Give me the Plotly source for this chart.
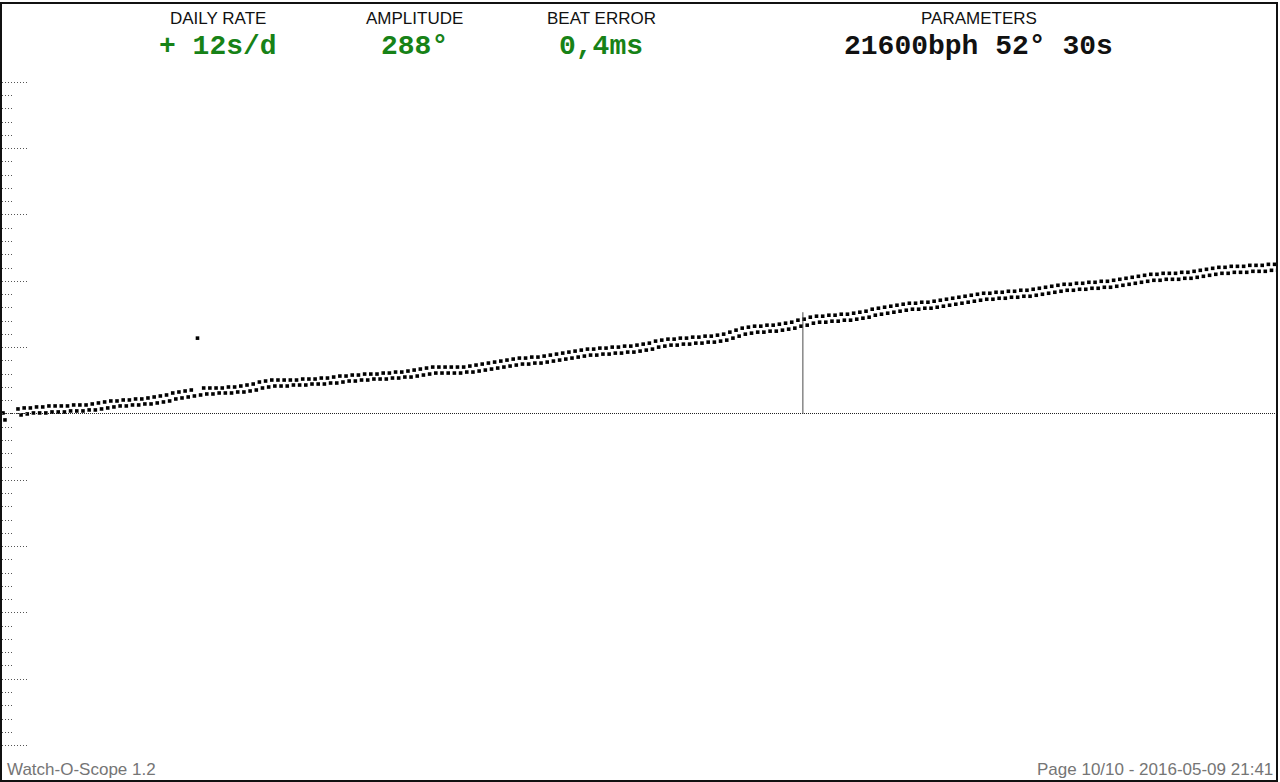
import plotly.graph_objects as go

# beat index along the page (tick = even beats, tock = odd beats half a step later)
beats = list(range(204))

# deviation of each tick / tock from the reference line (1 unit = 1/66.5 of a grid division)
tick_dev = [
    5, 6, 6, 7, 7, 8, 8, 8, 8, 9,
    9, 9, 10, 11, 12, 13, 13, 14, 14, 15,
    15, 16, 17, 18, 19, 21, 22, 23, 24, 76,
    26, 26, 26, 26, 27, 27, 28, 29, 30, 32,
    33, 34, 34, 34, 34, 34, 35, 35, 35, 36,
    36, 37, 38, 38, 39, 39, 40, 40, 40, 41,
    41, 42, 42, 43, 44, 45, 46, 47, 47, 47,
    47, 47, 47, 48, 49, 50, 51, 52, 53, 54,
    55, 56, 56, 57, 57, 58, 59, 60, 61, 62,
    63, 64, 65, 65, 66, 66, 67, 67, 68, 68,
    69, 70, 71, 73, 74, 75, 75, 76, 76, 77,
    77, 78, 78, 79, 80, 82, 84, 86, 87, 88,
    88, 89, 89, 90, 91, 92, 94, 95, 97, 98,
    98, 99, 99, 100, 100, 101, 102, 103, 105, 106,
    107, 108, 109, 110, 111, 111, 112, 112, 113, 114,
    115, 116, 117, 118, 119, 120, 121, 121, 122, 122,
    123, 123, 124, 124, 125, 126, 127, 128, 129, 130,
    130, 131, 131, 132, 132, 133, 133, 134, 135, 136,
    137, 138, 139, 140, 140, 141, 141, 141, 142, 142,
    143, 144, 145, 146, 147, 147, 148, 148, 148, 149,
    149, 149, 150, 150,
]
tock_dev = [
    -1, 0, 1, 1, 1, 2, 2, 2, 3, 3,
    3, 4, 4, 5, 6, 7, 8, 8, 9, 9,
    10, 10, 11, 12, 13, 15, 16, 17, 18, 19,
    20, 20, 21, 21, 21, 22, 22, 23, 24, 26,
    27, 28, 28, 28, 29, 29, 29, 30, 30, 30,
    31, 31, 32, 33, 33, 34, 34, 35, 35, 35,
    36, 36, 37, 37, 38, 39, 40, 41, 41, 41,
    41, 41, 42, 42, 43, 44, 45, 46, 47, 48,
    49, 50, 50, 51, 51, 52, 53, 54, 55, 56,
    57, 58, 59, 59, 60, 60, 61, 61, 62, 62,
    63, 64, 65, 67, 68, 69, 69, 70, 70, 71,
    71, 72, 72, 73, 74, 76, 78, 80, 81, 82,
    82, 83, 83, 84, 85, 86, 88, 89, 91, 92,
    92, 93, 93, 94, 94, 95, 96, 97, 99, 100,
    101, 102, 103, 104, 105, 105, 106, 106, 107, 108,
    109, 110, 111, 112, 113, 114, 115, 115, 116, 116,
    117, 117, 118, 118, 119, 120, 121, 122, 123, 124,
    124, 125, 125, 126, 126, 127, 127, 128, 129, 130,
    131, 132, 133, 134, 134, 135, 135, 135, 136, 136,
    137, 138, 139, 140, 141, 141, 142, 142, 142, 143,
    143, 143, 144, 144,
]

# two beats left over from the previous page at the left edge
early_beats = [-2.42, -2.1]
early_dev = [1, -6]

# cursor line
cursor_beat = 126.8
cursor_dev = 102

# grid divisions on the left edge
major_ticks = [k * 66.5 for k in range(-5, 6)]
minor_ticks = [k * 13.3 for k in range(-25, 26)]

header_labels = ["DAILY RATE", "AMPLITUDE", "BEAT ERROR", "PARAMETERS"]
header_values = ["+ 12s/d", "288°", "0,4ms", "21600bph 52° 30s"]
header_colors = ["#178217", "#178217", "#178217", "#111111"]
header_x = [0.1693, 0.3237, 0.4702, 0.7665]

W, H = 1280, 782
y_range = [-367, 411]
x_range = [-2.58, 203.23]

dot = dict(symbol="square", size=3.6, color="#000000", line=dict(width=0))

fig = go.Figure()
fig.add_trace(go.Scatter(x=beats, y=tick_dev, mode="markers", marker=dot, showlegend=False, hoverinfo="skip"))
fig.add_trace(go.Scatter(x=[b + 0.5 for b in beats], y=tock_dev, mode="markers", marker=dot,
                         showlegend=False, hoverinfo="skip"))
fig.add_trace(go.Scatter(x=early_beats, y=early_dev, mode="markers", marker=dot, showlegend=False, hoverinfo="skip"))
fig.add_trace(go.Scatter(x=[cursor_beat, cursor_beat], y=[0, cursor_dev], mode="lines",
                         line=dict(color="#4a4a4a", width=1), showlegend=False, hoverinfo="skip"))
# empty traces so the helper axes (zero line, tick marks) get drawn
fig.add_trace(go.Scatter(x=[], y=[], xaxis="x", yaxis="y2", showlegend=False))
fig.add_trace(go.Scatter(x=[], y=[], xaxis="x3", yaxis="y3", showlegend=False))
fig.add_trace(go.Scatter(x=[], y=[], xaxis="x4", yaxis="y4", showlegend=False))

annotations = []
for lab, val, col, xp in zip(header_labels, header_values, header_colors, header_x):
    annotations.append(dict(text=lab, x=xp, y=0.9807, xref="paper", yref="paper", showarrow=False,
                            xanchor="center", yanchor="middle",
                            font=dict(family="Liberation Sans, Arial", size=17, color="#111111")))
    annotations.append(dict(text=val, x=xp, y=0.9447, xref="paper", yref="paper", showarrow=False,
                            xanchor="center", yanchor="middle",
                            font=dict(family="Liberation Mono, Courier New", size=28, color=col, weight="bold")))
annotations.append(dict(text="Watch-O-Scope 1.2", x=0.0024, y=0.0129, xref="paper", yref="paper",
                        showarrow=False, xanchor="left", yanchor="middle",
                        font=dict(family="Liberation Sans, Arial", size=17, color="#757575")))
annotations.append(dict(text="Page 10/10 - 2016-05-09 21:41", x=0.9992, y=0.0129, xref="paper", yref="paper",
                        showarrow=False, xanchor="right", yanchor="middle",
                        font=dict(family="Liberation Sans, Arial", size=17, color="#757575")))

hidden = dict(showticklabels=False, ticks="", showgrid=False, zeroline=False)

fig.update_layout(
    width=W, height=H, autosize=False,
    margin=dict(l=2, r=2, t=2, b=2, pad=0),
    paper_bgcolor="white", plot_bgcolor="rgba(0,0,0,0)",
    annotations=annotations,
    xaxis=dict(range=x_range, showline=True, mirror=True, linecolor="#111111", linewidth=2, **hidden),
    yaxis=dict(range=y_range, showline=True, mirror=True, linecolor="#111111", linewidth=2, **hidden),
    yaxis2=dict(range=y_range, overlaying="y", showticklabels=False, ticks="", zeroline=False,
                tickvals=[0], showgrid=True, gridcolor="#222222", gridwidth=1, griddash="1px,1px"),
    xaxis3=dict(domain=[0, 0.0196], range=[0, 1], anchor="y3", visible=False),
    yaxis3=dict(range=y_range, anchor="x3", showticklabels=False, ticks="", zeroline=False,
                tickvals=major_ticks, showgrid=True, gridcolor="#555555", gridwidth=1, griddash="1px,2px"),
    xaxis4=dict(domain=[0, 0.0086], range=[0, 1], anchor="y4", visible=False),
    yaxis4=dict(range=y_range, anchor="x4", showticklabels=False, ticks="", zeroline=False,
                tickvals=minor_ticks, showgrid=True, gridcolor="#555555", gridwidth=1, griddash="1px,2px"),
)

fig.write_html("out.html", config={"displayModeBar": False},
               post_script="document.body.style.margin='0';")
